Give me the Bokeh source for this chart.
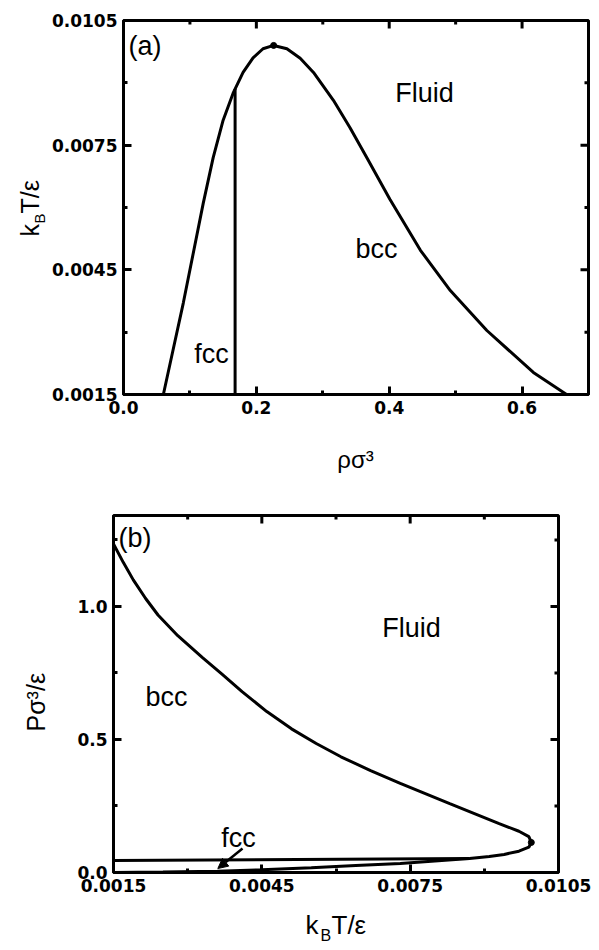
import math
from bokeh.plotting import figure
from bokeh.models import Range1d, FixedTicker, PrintfTickFormatter, Label, Arrow, NormalHead
from bokeh.layouts import column, row
from bokeh.embed import file_html
from bokeh.resources import INLINE

# ---------------- data: panel (a)  T vs rho ----------------
rho_a = [0.060, 0.075, 0.090, 0.105, 0.120, 0.135, 0.150, 0.165, 0.180, 0.195, 0.210, 0.226,
         0.246, 0.266, 0.286, 0.316, 0.341, 0.367, 0.401, 0.447, 0.492, 0.547, 0.617, 0.667]
T_a = [0.0015, 0.0026, 0.0037, 0.0049, 0.0061, 0.0072, 0.0081, 0.00875, 0.00925, 0.0096, 0.00982, 0.0099,
       0.00982, 0.00959, 0.00925, 0.00858, 0.00792, 0.00718, 0.00620, 0.00497, 0.0040, 0.00304, 0.00203, 0.0015]
rho_fb = [0.168, 0.168]
T_fb = [0.0015, 0.00885]
crit_a_x = [0.226]
crit_a_y = [0.0099]

# ---------------- data: panel (b)  P vs T ----------------
T_b = [0.0015, 0.0017, 0.0019, 0.00215, 0.0024, 0.0028, 0.0033, 0.0037, 0.0041, 0.0046,
       0.0051, 0.0056, 0.0061, 0.0067, 0.0073, 0.0083, 0.0093, 0.0097, 0.0099, 0.00995,
       0.0099, 0.0097, 0.0094, 0.0091, 0.0087, 0.0080, 0.0073, 0.0064, 0.0055, 0.0045,
       0.0036, 0.0025, 0.0015]
P_b = [1.235, 1.165, 1.10, 1.03, 0.968, 0.89, 0.808, 0.745, 0.68, 0.605,
       0.540, 0.485, 0.435, 0.383, 0.335, 0.259, 0.184, 0.155, 0.135, 0.113,
       0.095, 0.080, 0.068, 0.060, 0.053, 0.043, 0.034, 0.026, 0.018, 0.010,
       0.005, 0.002, 0.0]
T_fcc = [0.0015, 0.0087]
P_fcc = [0.045, 0.053]
crit_b_x = [0.00995]
crit_b_y = [0.113]
arrow_tail = (0.00411, 0.090)
arrow_head = (0.00361, 0.015)

xticks_a = [0.0, 0.2, 0.4, 0.6]
xminor_a = [0.1, 0.3, 0.5, 0.7]
yticks_a = [0.0015, 0.0045, 0.0075, 0.0105]
yminor_a = [0.003, 0.006, 0.009]
xticks_b = [0.0015, 0.0045, 0.0075, 0.0105]
xminor_b = [0.003, 0.006, 0.009]
yticks_b = [0.0, 0.5, 1.0]
yminor_b = [0.25, 0.75, 1.25]

FONT = "Liberation Sans"
TICKFONT = "DejaVu Sans"


def style_axis(ax, ticks, minor, fmt):
    ax.ticker = FixedTicker(ticks=ticks, minor_ticks=minor)
    ax.formatter = PrintfTickFormatter(format=fmt)
    ax.axis_line_width = 3
    ax.axis_line_color = "black"
    ax.major_tick_in = 8
    ax.major_tick_out = 0
    ax.minor_tick_in = 4
    ax.minor_tick_out = 0
    ax.major_tick_line_width = 3
    ax.minor_tick_line_width = 3
    ax.major_label_text_font = TICKFONT
    ax.major_label_text_font_style = "bold"
    ax.major_label_text_color = "black"
    ax.major_label_text_font_size = "17px"
    ax.major_label_standoff = 6


def make_fig(w, h, xr, yr, bl, br, bt, bb, xt, xm, yt, ym, xfmt, yfmt):
    p = figure(width=w, height=h, x_range=Range1d(*xr), y_range=Range1d(*yr),
               output_backend="svg", toolbar_location=None,
               min_border_left=bl, min_border_right=br, min_border_top=bt, min_border_bottom=bb)
    p.grid.visible = False
    p.outline_line_color = "black"
    p.outline_line_width = 3
    p.background_fill_color = "white"
    p.border_fill_color = "white"
    style_axis(p.xaxis[0], xt, xm, xfmt)
    style_axis(p.yaxis[0], yt, ym, yfmt)
    # mirror ticks on top and right edges (dash markers clipped by the frame -> inward ticks)
    p.scatter(xt, [yr[1]] * len(xt), marker="dash", size=16, angle=math.pi / 2,
              line_color="black", line_width=3)
    p.scatter(xm, [yr[1]] * len(xm), marker="dash", size=8, angle=math.pi / 2,
              line_color="black", line_width=3)
    p.scatter([xr[1]] * len(yt), yt, marker="dash", size=16, line_color="black", line_width=3)
    p.scatter([xr[1]] * len(ym), ym, marker="dash", size=8, line_color="black", line_width=3)
    return p


def lab(p, text, x, y, size, align="left", angle=0):
    p.add_layout(Label(x=x, y=y, x_units="screen", y_units="screen", text=text,
                       text_font=FONT, text_font_size=f"{size}px", text_color="black",
                       text_align=align, text_baseline="middle",
                       angle=angle, angle_units="deg"))


def text_fig(w, h):
    f = figure(width=w, height=h, x_range=Range1d(0, w), y_range=Range1d(0, h),
               output_backend="svg", toolbar_location=None, x_axis_type=None, y_axis_type=None,
               min_border=0)
    f.grid.visible = False
    f.outline_line_color = None
    f.border_fill_color = "white"
    f.background_fill_color = "white"
    return f


# ---------------- panel (a) ----------------
# page layout: row (y 0..430) = ylabel fig (x 0..48) + plot (x 48..599)
pa = make_fig(551, 430, (0.0, 0.7), (0.0015, 0.0105), 75, 11, 20, 36,
              xticks_a, xminor_a, yticks_a, yminor_a, "%.1f", "%.4f")
pa.line(rho_a, T_a, line_color="black", line_width=3)
pa.line(rho_fb, T_fb, line_color="black", line_width=3)
pa.scatter(crit_a_x, crit_a_y, size=6, color="black")


def A(px, py):  # page -> frame-relative screen coords (frame left 123, bottom 394)
    return px - 123, 394 - py


x, y = A(128, 45); lab(pa, "(a)", x, y, 27)
x, y = A(424, 92); lab(pa, "Fluid", x, y, 27, align="center")
x, y = A(376, 248); lab(pa, "bcc", x, y, 27, align="center")
x, y = A(211, 353); lab(pa, "fcc", x, y, 27, align="center")

ya = text_fig(48, 430)   # page y 0..430 -> screen y = 430 - page y
lab(ya, "k", 29, 430 - 272, 25, angle=90)
lab(ya, "B", 39, 430 - 259, 15, angle=90)
lab(ya, "T/ε", 29, 430 - 249, 25, angle=90)

xa = text_fig(599, 50)   # page y 430..480
lab(xa, "ρσ³", 355, 480 - 459, 24, align="center")

# ---------------- panel (b) ----------------
# page layout: row (y 480..900) = ylabel fig (x 0..48) + plot (x 48..599)
pb = make_fig(551, 420, (0.0015, 0.0105), (0.0, 1.342), 65, 41, 35, 28,
              xticks_b, xminor_b, yticks_b, yminor_b, "%.4f", "%.1f")
pb.line(T_b, P_b, line_color="black", line_width=3)
pb.line(T_fcc, P_fcc, line_color="black", line_width=3)
pb.scatter(crit_b_x, crit_b_y, size=6, color="black")
pb.add_layout(Arrow(x_start=arrow_tail[0], y_start=arrow_tail[1],
                    x_end=arrow_head[0], y_end=arrow_head[1], line_width=2.5, line_color="black",
                    end=NormalHead(size=10, fill_color="black", line_color="black")))


def B(px, py):  # frame left 113, bottom 872
    return px - 113, 872 - py


x, y = B(118, 537); lab(pb, "(b)", x, y, 27)
x, y = B(411, 627); lab(pb, "Fluid", x, y, 27, align="center")
x, y = B(166, 696); lab(pb, "bcc", x, y, 27, align="center")
x, y = B(238, 837); lab(pb, "fcc", x, y, 27, align="center")

yb = text_fig(48, 420)   # page y 480..900 -> screen y = 900 - page y
lab(yb, "Pσ³/ε", 35, 900 - 759, 25, angle=90)

xb = text_fig(599, 50)   # page y 900..950 -> screen y = 950 - page y
lab(xb, "k", 305, 950 - 924, 26)
lab(xb, "B", 320, 950 - 935, 16)
lab(xb, "T/ε", 331, 950 - 924, 26)

layout = column(row(ya, pa, spacing=0), xa, row(yb, pb, spacing=0), xb, spacing=0)
open("out.html", "w").write(file_html(layout, INLINE))
